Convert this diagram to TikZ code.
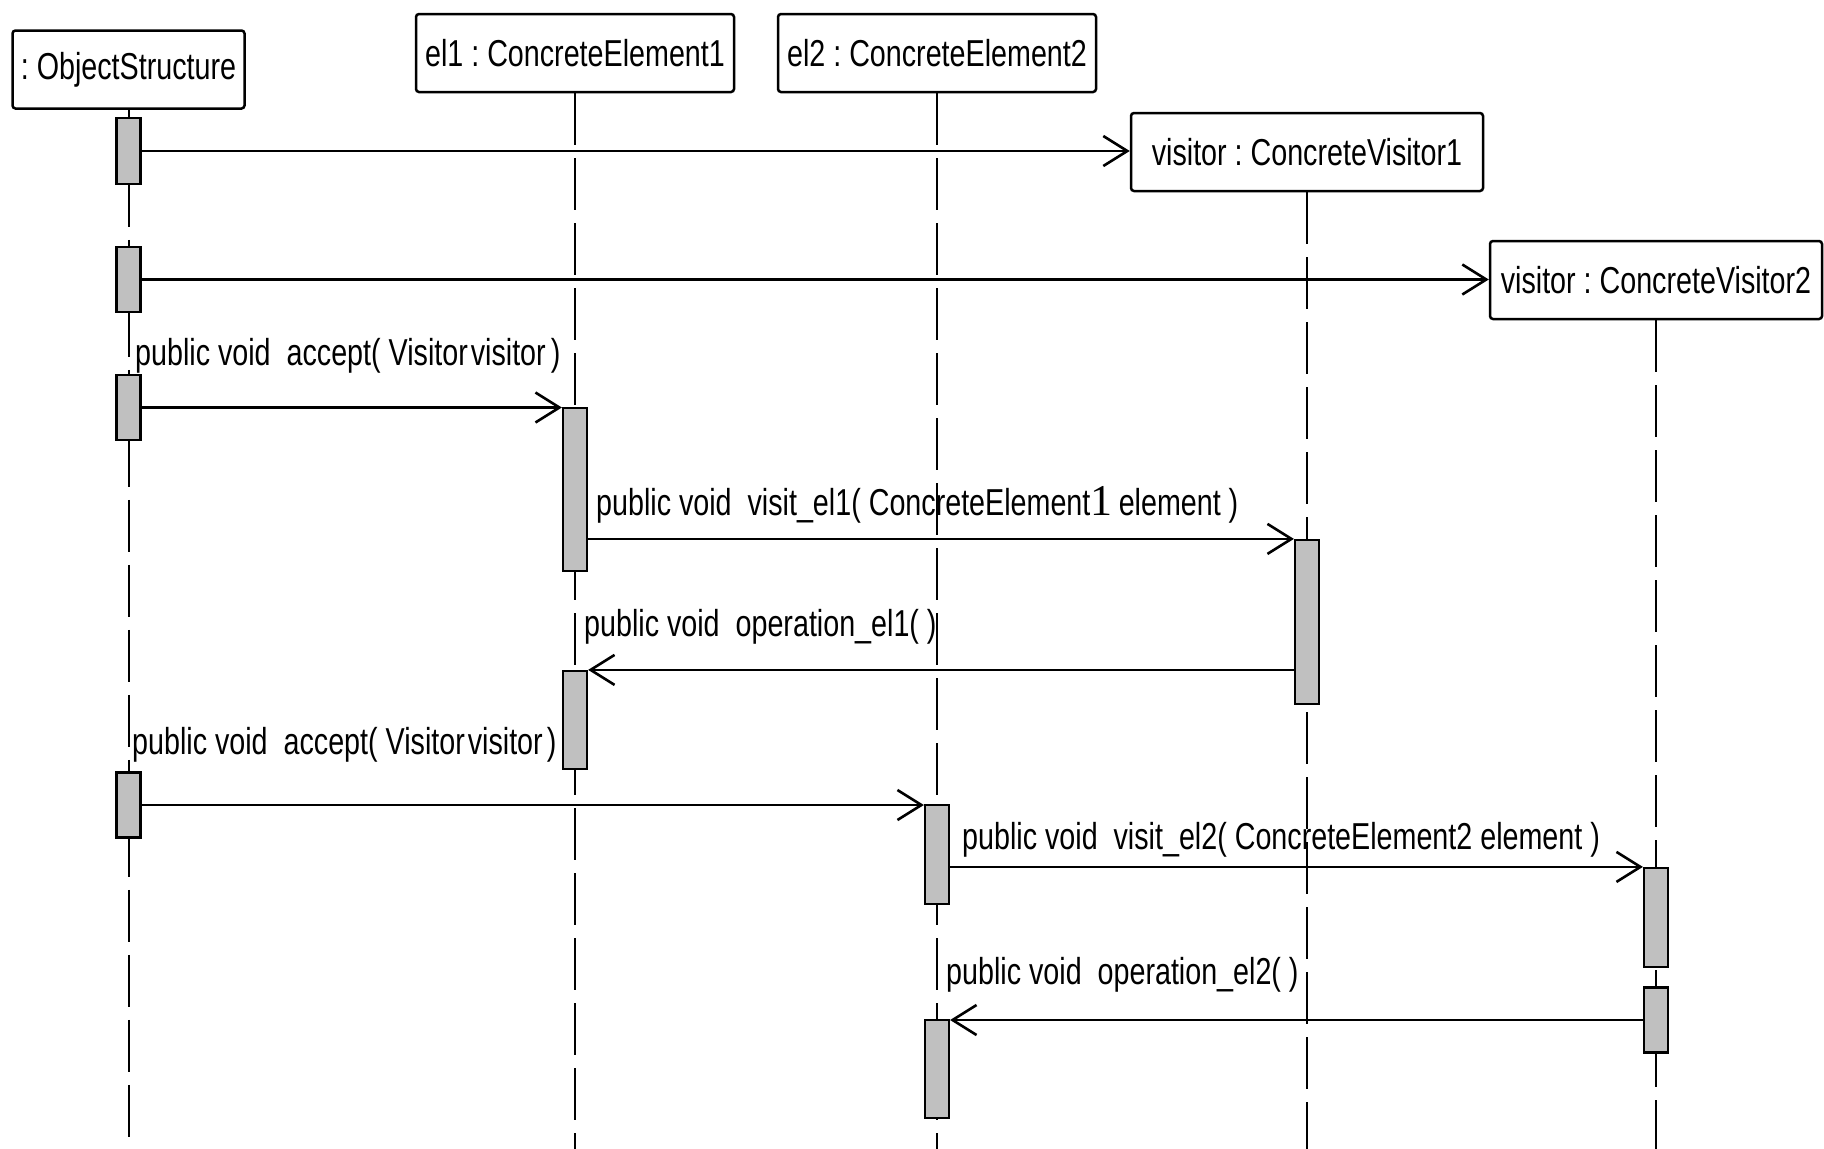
\documentclass[tikz,border=0pt]{standalone}
\usepackage{fontspec}
\setmainfont{Liberation Sans}[FakeStretch=0.765]
\newfontfamily\serifone{Liberation Serif}
\usetikzlibrary{arrows.meta}
\definecolor{barfill}{RGB}{192,192,192}
\frenchspacing
\begin{document}
\begin{tikzpicture}[x=1pt,y=-1pt,
  every node/.style={font=\fontsize{37.5}{45}\selectfont, text=black},
  objbox/.style={draw, line width=2.5pt, rounded corners=3pt, inner sep=0pt,
                 minimum height=78pt, fill=white},
  actbar/.style={draw, line width=2.2pt, fill=barfill, inner sep=0pt,
                 minimum width=24pt},
  lifeline/.style={line width=2pt, dash pattern=on 52pt off 13pt},
  msg/.style={line width=2.5pt,
              -{Straight Barb[length=24pt,width=30pt,line width=2.6pt]}},
  msglabel/.style={anchor=base west, inner sep=0pt}]
\useasboundingbox (0,0) rectangle (1824,1149);
\coordinate (bottom) at (0,1149);

% participants
\node[objbox, minimum width=232pt] (os) at (128.5,69.5) {: ObjectStructure};
\node[objbox, minimum width=318pt] (el1) at (575,53) {el1 : ConcreteElement1};
\node[objbox, minimum width=318pt] (el2) at (937,53) {el2 : ConcreteElement2};

% lifelines
\draw[lifeline] (os.south) -- (os.south |- bottom);
\draw[lifeline] (el1.south) -- (el1.south |- bottom);
\draw[lifeline] (el2.south) -- (el2.south |- bottom);

\node[objbox, minimum width=352pt] (v1) at (1307,152) {visitor : ConcreteVisitor1};
\node[objbox, minimum width=332pt] (v2) at (1656,280) {visitor : ConcreteVisitor2};
\draw[lifeline] (v1.south) -- (v1.south |- bottom);
\draw[lifeline] (v2.south) -- (v2.south |- bottom);

% activation bars of :ObjectStructure
\node[actbar, minimum height=66pt] (a1) at (128.5,151) {};
\node[actbar, minimum height=65pt] (a2) at (128.5,279.5) {};
\node[actbar, minimum height=65pt] (a3) at (128.5,407.5) {};
\node[actbar, minimum height=65pt] (a4) at (128.5,805) {};
% activation bars of el1
\node[actbar, minimum height=163pt] (b1) at (575,489.5) {};
\node[actbar, minimum height=98pt] (b2) at (575,720) {};
% activation bars of el2
\node[actbar, minimum height=99pt] (c1) at (937,854.5) {};
\node[actbar, minimum height=98pt] (c2) at (937,1069) {};
% activation bar of visitor 1
\node[actbar, minimum height=164pt] (d1) at (1307,622) {};
% activation bars of visitor 2
\node[actbar, minimum height=99pt] (e1) at (1656,917.5) {};
\node[actbar, minimum height=65pt] (e2) at (1656,1020) {};

% messages
\draw[msg] (a1.east) -- (a1.east -| v1.west);
\draw[msg] (a2.east) -- (a2.east -| v2.west);
\draw[msg] (a3.east) -- (a3.east -| b1.west);
\draw[msg] (d1.north west -| b1.east) -- (d1.north west);
\draw[msg] (b2.north east -| d1.west) -- (b2.north east);
\draw[msg] (a4.east) -- (a4.east -| c1.west);
\draw[msg] (e1.north west -| c1.east) -- (e1.north west);
\draw[msg] (e2.west) -- (e2.west -| c2.east);

% message labels
\node[msglabel] (l1) at (135,365) {public void~ accept( Visitor\hspace{3pt}visitor\hspace{5pt})};
\node[msglabel] (l2) at (596,515) {public void~ visit\_el1( ConcreteElement{\serifone\fontsize{44}{50}\selectfont 1}\,element )};
\node[msglabel] (l3) at (584,636) {public void~ operation\_el1( )};
\node[msglabel] (l4) at (132,754) {public void~ accept( Visitor\hspace{3pt}visitor\hspace{4pt})};
\node[msglabel] (l5) at (962,849) {public void~ visit\_el2( ConcreteElement2 element )};
\node[msglabel] (l6) at (946,984) {public void~ operation\_el2( )};
\end{tikzpicture}
\end{document}
